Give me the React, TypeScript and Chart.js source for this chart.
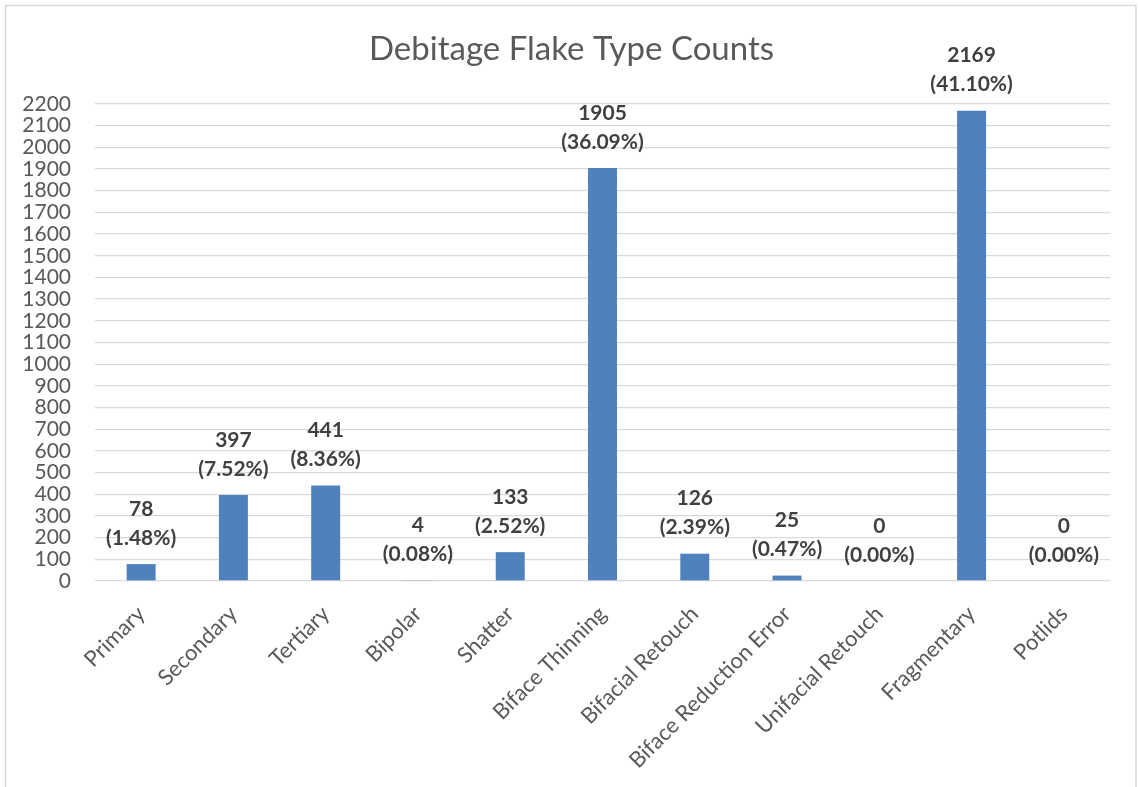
import { useEffect, useRef } from "react";
import { Chart, registerables } from "chart.js";

Chart.register(...registerables);

// Flake type categories and their counts
const categories = [
  "Primary",
  "Secondary",
  "Tertiary",
  "Bipolar",
  "Shatter",
  "Biface Thinning",
  "Bifacial Retouch",
  "Biface Reduction Error",
  "Unifacial Retouch",
  "Fragmentary",
  "Potlids",
];
const counts = [78, 397, 441, 4, 133, 1905, 126, 25, 0, 2169, 0];

// Value axis range
const yMin = 0;
const yMax = 2200;
const yStep = 100;

const chartTitle = "Debitage Flake Type Counts";

const total = counts.reduce((a, b) => a + b, 0);
const percentLabels = counts.map((c) => `(${((c / total) * 100).toFixed(2)}%)`);

const W = 1139;
const H = 787;

const framePlugin = {
  id: "frameAndTitle",
  beforeDraw(chart: Chart) {
    const ctx = chart.ctx;
    ctx.save();
    ctx.fillStyle = "#ffffff";
    ctx.fillRect(0, 0, W, H);
    ctx.strokeStyle = "#d9d9d9";
    ctx.lineWidth = 1.5;
    ctx.strokeRect(5.5, 5.5, 1130.5, H + 10);
    ctx.fillStyle = "#595959";
    ctx.font = "33px Lato";
    ctx.textAlign = "center";
    ctx.textBaseline = "alphabetic";
    ctx.fillText(chartTitle, 571.5, 59.5);
    ctx.restore();
  },
};

const valueLabelPlugin = {
  id: "valueLabels",
  afterDatasetsDraw(chart: Chart) {
    const ctx = chart.ctx;
    const meta = chart.getDatasetMeta(0);
    ctx.save();
    ctx.fillStyle = "#404040";
    ctx.font = "bold 21px Lato";
    ctx.textAlign = "center";
    ctx.textBaseline = "middle";
    meta.data.forEach((el: any, i: number) => {
      const x = el.x;
      const top = el.y;
      ctx.fillText(String(counts[i]), x, top - 55);
      ctx.fillText(percentLabels[i], x, top - 26);
    });
    ctx.restore();
  },
};

export default function App() {
  const canvasRef = useRef<HTMLCanvasElement | null>(null);

  useEffect(() => {
    if (!canvasRef.current) return;
    const chart = new Chart(canvasRef.current, {
      type: "bar",
      data: {
        labels: categories,
        datasets: [
          {
            data: counts,
            backgroundColor: "#4f81bd",
            barPercentage: 0.314,
            categoryPercentage: 1,
          },
        ],
      },
      options: {
        responsive: false,
        animation: false,
        layout: { padding: { top: 104, right: 29, bottom: 0, left: 0 } },
        plugins: {
          legend: { display: false },
          title: { display: false },
          tooltip: { enabled: false },
        },
        scales: {
          x: {
            grid: { display: false },
            border: { display: false },
            ticks: {
              color: "#595959",
              font: { family: "Lato", size: 22 },
              minRotation: 45,
              maxRotation: 45,
              padding: 12,
            },
            afterFit(scale: any) {
              scale.height = H - 581;
            },
          },
          y: {
            min: yMin,
            max: yMax,
            border: { display: false },
            grid: { color: "#d9d9d9", lineWidth: 1.3, drawTicks: false },
            ticks: {
              stepSize: yStep,
              autoSkip: false,
              color: "#595959",
              font: { family: "Lato", size: 21 },
              padding: 24,
              callback: (v: any) => String(v),
            },
            afterFit(scale: any) {
              scale.width = 95;
            },
          },
        },
      },
      plugins: [framePlugin, valueLabelPlugin],
    });
    return () => chart.destroy();
  }, []);

  return (
    <div style={{ position: "fixed", left: 0, top: 0, width: W, height: H }}>
      <canvas ref={canvasRef} width={W} height={H} style={{ display: "block" }} />
    </div>
  );
}
